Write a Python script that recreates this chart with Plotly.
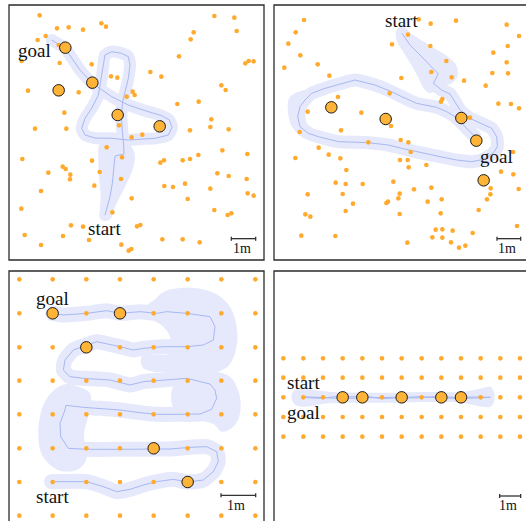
import plotly.graph_objects as go

W, H = 526, 521

# ---------------- data (map units; y grows downward) ----------------
# Panel 1: random landmarks
p1_dot_x = [119,643,703,304,318,171,206,249,710,581,137,113,572,176,65,179,537,746,761,736,275,451,484,333,352,664,677,84,236,398,404,380,596,532,193,634,631,686,105,199,570,427,395,320,667,742,595,67,366,570,548,492,481,276,188,197,299,145,211,210,652,686,740,555,493,519,283,631,123,743,761,395,563,64,643,694,683,337,213,249,421,411,74,189,487,548,267,599,123,364,394,386,357,363]
p1_dot_y = [46,48,53,70,80,85,82,89,93,97,108,120,118,135,183,189,169,183,184,190,193,216,230,229,233,256,270,272,277,275,285,290,305,312,338,358,381,388,386,386,391,404,412,442,451,462,465,477,472,477,481,481,488,482,500,507,516,518,524,538,520,528,537,551,558,561,557,566,573,580,587,595,597,626,630,640,645,637,676,680,675,679,705,708,718,718,720,727,735,734,747,752,376,537]
p1_big_x = [196,176,277,353,479]
p1_big_y = [143,271,248,345,379]
p1_path_x = [315,322,330,337,342,345,372,371,367,364,368,376,385,390,385,365,335,315,310,305,295,275,255,245,255,285,335,385,425,465,505,516,508,485,435,385,335,277,240,195,155]
p1_path_y = [645,622,590,550,510,468,462,435,395,345,305,275,235,195,170,160,155,165,195,235,285,325,355,385,405,414,415,420,417,415,405,382,360,347,332,315,290,250,210,145,120]
p1_blob_x = [300,295,298,302,300,310,330,345,365,385,400,405,400,385,350]
p1_blob_y = [432,480,540,590,635,660,658,620,580,540,500,475,450,432,428]

# Panel 2: random landmarks
p2_dot_x = [126,470,506,582,734,101,438,771,79,390,505,737,115,694,553,734,167,67,508,691,738,202,418,569,606,671,383,228,541,537,709,747,771,137,298,624,387,237,113,416,439,170,446,753,100,200,235,414,437,493,440,253,717,754,221,251,302,394,456,508,770,686,685,675,137,242,413,409,539,378,373,273,497,650,130,145,251,413,536,765,521,541,572,632,118,220,511,541,436,567,610,591,319]
p2_dot_y = [60,58,71,62,74,97,104,108,131,133,138,138,166,158,183,187,193,203,216,219,220,227,234,232,242,257,280,291,297,305,311,312,325,335,338,353,378,391,396,420,427,443,456,456,474,464,475,480,480,495,502,510,515,523,548,552,552,545,568,563,567,565,583,598,583,582,581,595,598,605,609,611,605,630,643,650,633,642,640,678,689,688,692,699,707,708,712,713,728,727,737,743,427]
p2_big_x = [208,371,598,643,665]
p2_big_y = [322,357,354,422,541]
p2_path_x = [420,444,474,504,529,514,539,564,579,594,624,659,689,704,706,695,665,629,584,534,474,419,379,319,229,169,139,114,107,114,129,149,189,239,279,339,389,419,464,524,554,579,614,639]
p2_path_y = [100,135,165,195,222,250,270,282,305,330,355,370,385,410,440,458,478,485,480,470,458,445,435,428,425,410,400,380,350,320,300,280,265,250,240,255,275,290,310,322,335,350,385,410]
p2_blob1_x = [403,420,445,500,560,585,585,565,530,505,485,470,445,420,405]
p2_blob1_y = [98,88,100,135,172,200,232,252,258,280,265,235,190,150,125]
p2_blob2_x = [79,90,120,150,150,135,130,135,160,150,115,90,80]
p2_blob2_y = [300,285,272,268,290,310,340,370,395,414,405,380,350]

# Panel 3: 8 x 8 landmark grid
p3_grid_x = [58,158,259,360,461,563,664,766]
p3_grid_y = [58,160,262,362,463,565,666,767]
p3_big_x = [158,360,259,461,563]
p3_big_y = [160,160,262,565,666]
p3_path_x = [155,260,310,350,390,430,470,520,563,610,640,655,650,620,570,510,461,410,360,260,205,182,180,195,198,250,300,360,420,470,530,600,635,650,645,630,560,490,430,390,330,250,210,190,195,220,259,290,360,400,430,490,560,610,640,645,630,560,500,470,420,360,320,260,190,158]
p3_path_y = [665,665,680,695,688,675,665,658,666,660,635,605,575,560,562,567,567,568,568,568,565,530,490,450,436,442,445,450,458,463,463,462,448,415,390,372,355,360,365,375,360,355,350,330,300,270,255,245,260,270,265,260,260,255,240,200,170,160,155,160,155,160,152,160,165,160]
p3_blob1_x = [430,465,495,540,600,650,690,708,712,702,685,650,600,520,460,428,425,470,510,510,490,460]
p3_blob1_y = [150,118,94,84,86,103,140,190,240,288,318,336,340,338,335,322,290,285,280,230,200,180]
p3_blob2_x = [520,600,650,692,713,722,716,695,665,640,600,560,520]
p3_blob2_y = [380,340,335,352,388,430,475,505,515,492,482,480,445]
p3_blob3_x = [200,160,132,118,115,122,145,180,230,258,255,252,262,272,270,240]
p3_blob3_y = [372,392,430,480,530,575,610,632,630,600,560,520,480,440,400,382]

# Panel 4: 13 x 5 landmark grid
p4_grid_x = [64,124,183,242,301,360,419,479,538,597,656,715,774]
p4_grid_y = [295,353,412,471,530]
p4_big_x = [242,301,419,538,597]
p4_big_y = [412,412,412,412,412]
p4_path_x = [120,180,230,270,330,400,460,520,580,640,685,640,580,520,470,420,360,320,270,220,180,130]
p4_path_y = [410,413,415,410,413,412,414,410,412,411,412,414,415,413,410,413,416,410,415,410,415,413]
p4_blob_x = [88,100,130,200,300,400,500,600,660,685,696,696,685,660,600,500,400,300,200,130,100]
p4_blob_y = [408,390,388,395,398,398,396,396,385,380,395,425,440,440,428,426,428,428,430,440,435]

# labels: (text, x, y)
p1_labels = [("goal", 103, 150), ("start", 313, 686)]
p2_labels = [("start", 418, 60), ("goal", 703, 470)]
p3_labels = [("goal", 158, 116), ("start", 158, 708)]
p4_labels = [("start", 123, 368), ("goal", 123, 456)]

# scale bar: (x_end, y, units per metre)
scale_bars = {1: (767, 716, 73), 2: (776, 716, 71), 3: (767, 706, 104), 4: (776, 708, 63)}

# ---------------- styling ----------------
DOT = "rgb(255,170,45)"
BIG = "rgb(255,180,55)"
BAND = "rgb(229,233,251)"
PATH = "rgb(168,184,242)"
SERIF = "Liberation Serif, Times New Roman, serif"

# page-pixel boxes for the four panels, and offsets of map units
panels = {
    1: dict(px=(9, 264), py=(5, 260), off=(0, 0)),
    2: dict(px=(274, 526), py=(5, 260), off=(262, 0)),
    3: dict(px=(9, 264), py=(271, 521), off=(0, 260)),
    4: dict(px=(274, 526), py=(271, 521), off=(262, 260)),
}

fig = go.Figure()


def ax(i):
    return ("x" if i == 1 else f"x{i}"), ("y" if i == 1 else f"y{i}")


def add_blob(i, xs, ys):
    xa, ya = ax(i)
    fig.add_trace(go.Scatter(x=xs + xs[:1], y=ys + ys[:1], mode="lines", fill="toself",
                             fillcolor=BAND, line=dict(width=0, color=BAND, shape="spline"),
                             hoverinfo="skip", xaxis=xa, yaxis=ya))


def add_path(i, xs, ys, bandw):
    xa, ya = ax(i)
    fig.add_trace(go.Scatter(x=xs, y=ys, mode="lines", line=dict(width=bandw, color=BAND, shape="spline", smoothing=0.6),
                             hoverinfo="skip", xaxis=xa, yaxis=ya))
    fig.add_trace(go.Scatter(x=[xs[0], xs[-1]], y=[ys[0], ys[-1]], mode="markers",
                             marker=dict(size=bandw, color=BAND, line=dict(width=0)),
                             hoverinfo="skip", xaxis=xa, yaxis=ya))
    fig.add_trace(go.Scatter(x=xs, y=ys, mode="lines", line=dict(width=1, color=PATH),
                             hoverinfo="skip", xaxis=xa, yaxis=ya))


def add_dots(i, xs, ys, bx, by):
    xa, ya = ax(i)
    fig.add_trace(go.Scatter(x=xs, y=ys, mode="markers", marker=dict(size=4.6, color=DOT, line=dict(width=0)),
                             hoverinfo="skip", xaxis=xa, yaxis=ya))
    fig.add_trace(go.Scatter(x=bx, y=by, mode="markers",
                             marker=dict(size=11.5, color=BIG, line=dict(width=1, color="#1a1a1a")),
                             hoverinfo="skip", xaxis=xa, yaxis=ya))


# Panel 1
add_blob(1, p1_blob_x, p1_blob_y)
add_path(1, p1_path_x, p1_path_y, 12)
add_dots(1, p1_dot_x, p1_dot_y, p1_big_x, p1_big_y)
# Panel 2
add_blob(2, p2_blob1_x, p2_blob1_y)
add_blob(2, p2_blob2_x, p2_blob2_y)
add_path(2, p2_path_x, p2_path_y, 13)
add_dots(2, p2_dot_x, p2_dot_y, p2_big_x, p2_big_y)
# Panel 3
add_blob(3, p3_blob1_x, p3_blob1_y)
add_blob(3, p3_blob2_x, p3_blob2_y)
add_blob(3, p3_blob3_x, p3_blob3_y)
add_path(3, p3_path_x, p3_path_y, 15)
g3x = [gx for gy in p3_grid_y for gx in p3_grid_x]
g3y = [gy for gy in p3_grid_y for gx in p3_grid_x]
add_dots(3, g3x, g3y, p3_big_x, p3_big_y)
# Panel 4
add_blob(4, p4_blob_x, p4_blob_y)
add_path(4, p4_path_x, p4_path_y, 6)
g4x = [gx for gy in p4_grid_y for gx in p4_grid_x]
g4y = [gy for gy in p4_grid_y for gx in p4_grid_x]
add_dots(4, g4x, g4y, p4_big_x, p4_big_y)

layout = dict(width=W, height=H, margin=dict(l=0, r=0, t=0, b=0),
              paper_bgcolor="white", plot_bgcolor="rgba(0,0,0,0)", showlegend=False)
shapes = []
annotations = []
labels = {1: p1_labels, 2: p2_labels, 3: p3_labels, 4: p4_labels}
for i, p in panels.items():
    (x0, x1), (y0, y1), (ox, oy) = p["px"], p["py"], p["off"]
    xk = "xaxis" if i == 1 else f"xaxis{i}"
    yk = "yaxis" if i == 1 else f"yaxis{i}"
    xa, ya = ax(i)
    layout[xk] = dict(domain=[x0 / W, x1 / W], range=[3 * (x0 - ox), 3 * (x1 - ox)],
                      visible=False, anchor=ya, fixedrange=True)
    layout[yk] = dict(domain=[1 - y1 / H, 1 - y0 / H], range=[3 * (y1 - oy), 3 * (y0 - oy)],
                      visible=False, anchor=xa, fixedrange=True)
    # frame (parts beyond the page edge are cut off)
    bx1 = x1 if x1 < W else W + 5
    by1 = y1 if y1 < H else H + 5
    shapes.append(dict(type="rect", xref="paper", yref="paper",
                       x0=x0 / W, x1=bx1 / W, y0=1 - by1 / H, y1=1 - y0 / H,
                       line=dict(color="#2b2b2b", width=1.3), fillcolor="rgba(0,0,0,0)", layer="above"))
    # scale bar
    xe, yb, upm = scale_bars[i]
    xs = xe - upm
    shapes.append(dict(type="line", xref=xa, yref=ya, x0=xs, x1=xe, y0=yb, y1=yb,
                       line=dict(color="#333", width=1.3)))
    for xx in (xs, xe):
        shapes.append(dict(type="line", xref=xa, yref=ya, x0=xx, x1=xx, y0=yb - 6, y1=yb + 6,
                           line=dict(color="#333", width=1.3)))
    annotations.append(dict(text="1m", xref=xa, yref=ya, x=(xs + xe) / 2 - 6, y=yb + 29,
                            showarrow=False, xanchor="center", yanchor="middle",
                            font=dict(family=SERIF, size=14, color="#111")))
    for t, tx, ty in labels[i]:
        annotations.append(dict(text=t, xref=xa, yref=ya, x=tx, y=ty, showarrow=False,
                                xanchor="center", yanchor="middle",
                                font=dict(family=SERIF, size=19, color="#111")))

layout["shapes"] = shapes
layout["annotations"] = annotations
fig.update_layout(**layout)
fig.write_html("out.html", config={"displayModeBar": False},
               post_script="document.body.style.margin='0';document.body.style.overflow='hidden';")
